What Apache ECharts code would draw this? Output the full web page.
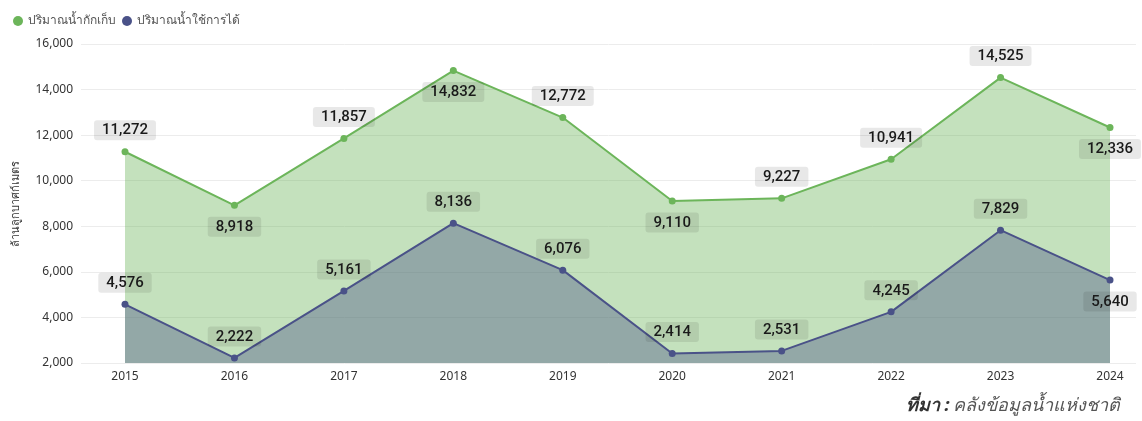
<!DOCTYPE html>
<html><head><meta charset="utf-8">
<script src="https://cdn.jsdelivr.net/npm/echarts@6/dist/echarts.min.js"></script>
<style>html,body{margin:0;padding:0;background:#fff}#c{width:1142px;height:421px}</style>
</head><body><div id="c"></div>
<script>
const years = ['2015','2016','2017','2018','2019','2020','2021','2022','2023','2024'];
const storedWater = [11272, 8918, 11857, 14832, 12772, 9110, 9227, 10941, 14525, 12336];
const usableWater = [4576, 2222, 5161, 8136, 6076, 2414, 2531, 4245, 7829, 5640];
const storedPos = ['top','bottom','top','bottom','top','bottom','top','top','top','bottom'];
const usablePos = ['top','top','top','top','top','top','top','top','top','bottom'];
const yTicks = [2000, 16000, 2000];

const labelBase = {
  show: true, distance: 8, fontFamily: 'Roboto', fontSize: 15, fontWeight: 500, color: '#1a1a1a',
  backgroundColor: 'rgba(0,0,0,0.09)', borderRadius: 3, padding: [3, 8, 2, 8],
  formatter: p => p.value.toLocaleString('en-US')
};
function mk(vals, pos) {
  return vals.map((v, i) => ({ value: v, label: { position: pos[i] } }));
}
const chart = echarts.init(document.getElementById('c'), null, { renderer: 'canvas' });
chart.setOption({
  animation: false,
  legend: {
    left: 8, top: 10, itemWidth: 10, itemHeight: 10, itemGap: 6, icon: 'circle',
    textStyle: { color: '#555', fontSize: 12, fontFamily: 'Noto Sans' },
    data: ['ปริมาณน้ำกักเก็บ', 'ปริมาณน้ำใช้การได้']
  },
  grid: [
    { left: 81, right: 6, top: 44, bottom: 58 },
    { left: 125, right: 32, top: 44, bottom: 58 }
  ],
  xAxis: [
    { gridIndex: 0, type: 'category', data: years, show: false },
    { gridIndex: 1, type: 'category', data: years, boundaryGap: false,
      axisLine: { show: false }, axisTick: { show: false },
      axisLabel: { color: '#333', fontSize: 12, fontFamily: 'Noto Sans', margin: 8 } }
  ],
  yAxis: [
    { gridIndex: 0, type: 'value', min: yTicks[0], max: yTicks[1], interval: yTicks[2],
      name: 'ล้านลูกบาศก์เมตร', nameLocation: 'middle', nameGap: 60, nameRotate: 90,
      nameTextStyle: { color: '#333', fontSize: 11, fontFamily: 'Noto Sans' },
      axisLine: { show: false }, axisTick: { show: false },
      axisLabel: { color: '#333', fontSize: 12, fontFamily: 'Noto Sans', margin: 8,
        formatter: v => v.toLocaleString('en-US') },
      splitLine: { lineStyle: { color: '#ececec', width: 1 } } },
    { gridIndex: 1, type: 'value', min: yTicks[0], max: yTicks[1], interval: yTicks[2],
      show: false, splitLine: { show: false } }
  ],
  series: [
    { name: 'ปริมาณน้ำกักเก็บ', type: 'line', xAxisIndex: 1, yAxisIndex: 1,
      data: mk(storedWater, storedPos), symbol: 'circle', symbolSize: 7,
      itemStyle: { color: '#6cb55a' }, lineStyle: { color: '#6cb55a', width: 2 },
      areaStyle: { color: '#6cb55a', opacity: 0.4, origin: 'start' },
      label: labelBase, z: 2 },
    { name: 'ปริมาณน้ำใช้การได้', type: 'line', xAxisIndex: 1, yAxisIndex: 1,
      data: mk(usableWater, usablePos), symbol: 'circle', symbolSize: 7,
      itemStyle: { color: '#4a5288' }, lineStyle: { color: '#4a5288', width: 2 },
      areaStyle: { color: '#4a5288', opacity: 0.4, origin: 'start' },
      label: labelBase, z: 3 }
  ],
  graphic: [
    { type: 'text', right: 22, top: 397,
      style: { rich: {
          b: { fontSize: 18, fontWeight: 'bold', fontStyle: 'italic', fill: '#333', fontFamily: 'Noto Sans' },
          n: { fontSize: 18, fontStyle: 'italic', fill: '#555', fontFamily: 'Noto Sans' }
        },
        text: '{b|ที่มา :} {n|คลังข้อมูลน้ำแห่งชาติ}' } }
  ]
});
</script></body></html>
